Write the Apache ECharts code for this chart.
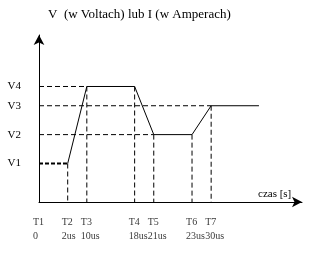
<!DOCTYPE html>
<html>
<head>
<meta charset="utf-8">
<script src="https://cdn.jsdelivr.net/npm/echarts@6/dist/echarts.min.js"></script>
<style>html,body{margin:0;padding:0;background:#fff}#c{width:335px;height:259px}</style>
</head>
<body>
<div id="c"></div>
<script>
// ---- data ----
var titleText = 'V  (w Voltach) lub I (w Amperach)';
var xAxisName = 'czas [s]';
var tickNames = ['T1', 'T2', 'T3', 'T4', 'T5', 'T6', 'T7'];
var tickTimes = ['0', '2us', '10us', '18us', '21us', '23us', '30us'];
var tickPos = [0, 3, 5, 10, 12, 16, 18];          // schematic time positions
var levelNames = ['V1', 'V2', 'V3', 'V4'];
var levelValues = [4, 7, 10, 12];
// waveform (solid part) : x positions and levels
var waveX = [3, 5, 10, 12, 16, 18, 23];
var waveY = [4, 12, 12, 7, 7, 10, 10];
// initial level segment (dashed bold)
var initX = [0, 3];
var initY = [4, 4];

// ---- build ----
var FONT = 'Liberation Serif';
var wave = waveX.map(function (x, i) { return [x, waveY[i]]; });
var init = initX.map(function (x, i) { return [x, initY[i]]; });

var guides = [];
for (var i = 0; i < 6; i++) {
  guides.push([waveX[i], waveY[i]], [waveX[i], 0], null);
}
[12, 10, 7].forEach(function (lv) {
  var k = waveY.indexOf(lv);
  guides.push([0, lv], [waveX[k], lv], null);
});

var chart = echarts.init(document.getElementById('c'), null, {renderer: 'canvas'});
chart.setOption({
  animation: false,
  backgroundColor: '#fff',
  title: {
    text: titleText,
    left: 43, top: 3,
    textStyle: {fontFamily: FONT, fontSize: 13, fontWeight: 'normal', color: '#000'}
  },
  grid: {left: 39, right: 33, top: 35, bottom: 57, containLabel: false},
  xAxis: {
    type: 'value', min: 0, max: 27.5,
    name: xAxisName, nameLocation: 'end', nameGap: -44,
    nameTextStyle: {fontFamily: FONT, fontSize: 11, color: '#000', align: 'left', verticalAlign: 'bottom', padding: [0, 0, 2, 0]},
    axisLine: {show: true, symbol: ['none', 'arrow'], symbolSize: [8, 10], lineStyle: {color: '#000', width: 1}},
    axisTick: {show: false}, axisLabel: {show: false}, splitLine: {show: false}
  },
  yAxis: {
    type: 'value', min: 0, max: 17.35,
    axisLine: {show: true, symbol: ['none', 'arrow'], symbolSize: [8, 10], lineStyle: {color: '#000', width: 1}},
    axisTick: {show: false}, splitLine: {show: false},
    axisLabel: {
      show: true, customValues: levelValues, margin: 18,
      fontFamily: FONT, fontSize: 11, color: '#000',
      formatter: function (v) { var k = levelValues.indexOf(v); return k >= 0 ? levelNames[k] : ''; }
    }
  },
  series: [
    {
      type: 'line', data: guides, connectNulls: false, symbol: 'none', silent: true,
      lineStyle: {color: '#000', width: 1, type: [5, 3]}
    },
    {
      type: 'line', data: init, symbol: 'none', silent: true,
      lineStyle: {color: '#000', width: 2, type: [4, 2]}
    },
    {
      type: 'line', data: wave, symbol: 'none', silent: true,
      lineStyle: {color: '#000', width: 1}
    },
    {
      type: 'scatter', symbolSize: 0, silent: true, clip: false,
      data: tickPos.map(function (x) { return [x, 0]; }),
      label: {
        show: true, position: 'bottom', distance: 13, align: 'left', offset: [-6, 0],
        fontFamily: FONT, fontSize: 10, color: '#000', lineHeight: 14,
        formatter: function (p) { return tickNames[p.dataIndex] + '\n' + tickTimes[p.dataIndex]; }
      }
    }
  ]
});
</script>
</body>
</html>
